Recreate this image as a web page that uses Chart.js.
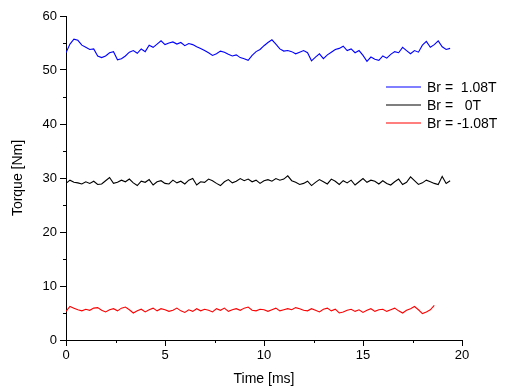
<!DOCTYPE html>
<html>
<head>
<meta charset="utf-8">
<script src="https://cdn.jsdelivr.net/npm/chart.js@4/dist/chart.umd.min.js"></script>
<style>
  html, body { margin: 0; padding: 0; background: #fff; }
  #wrap { width: 507px; height: 391px; }
</style>
</head>
<body>
<div id="wrap"><canvas id="torque" width="507" height="391"></canvas></div>
<script>
// sample times [ms]
const time = [
  0, 0.2, 0.4, 0.6, 0.8, 1.0, 1.2, 1.4, 1.6, 1.8, 2.0, 2.2, 2.4, 2.6, 2.8, 3.0, 3.2, 3.4, 3.6, 3.8,
  4.0, 4.2, 4.4, 4.6, 4.8, 5.0, 5.2, 5.4, 5.6, 5.8, 6.0, 6.2, 6.4, 6.6, 6.8, 7.0, 7.2, 7.4, 7.6, 7.8,
  8.0, 8.2, 8.4, 8.6, 8.8, 9.0, 9.2, 9.4, 9.6, 9.8, 10.0, 10.2, 10.4, 10.6, 10.8, 11.0, 11.2, 11.4, 11.6, 11.8,
  12.0, 12.2, 12.4, 12.6, 12.8, 13.0, 13.2, 13.4, 13.6, 13.8, 14.0, 14.2, 14.4, 14.6, 14.8, 15.0, 15.2, 15.4, 15.6, 15.8,
  16.0, 16.2, 16.4, 16.6, 16.8, 17.0, 17.2, 17.4, 17.6, 17.8, 18.0, 18.2, 18.4, 18.6, 18.8, 19.0, 19.2, 19.4
];

// Br = 1.08T
const torquePos = [
  53.2, 54.8, 55.7, 55.5, 54.6, 54.2, 53.8, 53.9, 52.6, 52.3, 52.6, 53.2, 53.4, 51.9, 52.1, 52.6, 53.3, 53.6, 53.1, 53.9,
  53.4, 54.6, 54.2, 54.8, 55.4, 54.7, 55.0, 55.2, 54.8, 55.1, 54.5, 54.9, 54.7, 54.3, 54.0, 53.6, 53.2, 52.7, 53.0, 53.5,
  53.3, 52.9, 52.6, 52.8, 52.3, 52.1, 51.8, 52.7, 53.4, 53.8, 54.5, 55.1, 55.6, 54.8, 53.9, 53.5, 53.6, 53.4, 53.0, 53.3,
  53.6, 53.2, 51.7, 52.4, 53.0, 52.1, 52.8, 53.3, 53.8, 54.0, 54.4, 53.6, 53.9, 53.2, 53.6, 52.7, 51.6, 52.4, 52.0, 51.8,
  52.6, 52.2, 52.9, 53.4, 53.2, 54.2, 53.6, 53.0, 53.6, 53.3, 54.6, 55.3, 54.2, 54.7, 55.4, 54.3, 53.8, 54.0
];

// Br = 0T
const torqueZero = [
  29.0, 29.6, 29.2, 29.1, 28.9, 29.3, 29.0, 29.4, 28.8, 28.9, 29.5, 30.1, 29.0, 29.2, 29.6, 29.3, 29.8, 29.1, 28.6, 29.4,
  29.2, 29.7, 28.7, 29.3, 29.5, 29.0, 28.9, 29.6, 29.1, 29.4, 28.9, 29.6, 29.9, 28.7, 29.3, 29.2, 29.8, 29.5, 29.0, 28.6,
  29.3, 29.7, 29.1, 29.4, 29.9, 29.5, 29.8, 29.3, 29.6, 29.0, 29.5, 29.7, 29.4, 29.9, 29.6, 29.8, 30.4, 29.5, 29.2, 28.8,
  29.0, 29.4, 28.6, 29.2, 29.7, 29.3, 28.9, 29.8, 29.4, 28.8, 29.5, 29.1, 29.6, 28.7, 29.3, 29.9, 29.2, 29.6, 29.4, 28.9,
  29.5, 29.0, 28.7, 29.3, 29.8, 28.8, 29.2, 30.2, 29.5, 28.8, 29.1, 29.6, 29.3, 29.0, 28.8, 30.3, 29.0, 29.5
];

// Br = -1.08T (ends at 18.6 ms)
const torqueNeg = [
  5.3, 6.2, 5.9, 5.6, 5.4, 5.7, 5.5, 5.9, 6.0, 5.5, 5.2, 5.6, 5.8, 5.4, 5.9, 6.1, 5.6, 5.0, 5.4, 5.7,
  5.2, 5.6, 5.9, 5.4, 5.8, 5.6, 5.3, 5.5, 5.9, 5.4, 5.1, 5.6, 5.3, 5.8, 5.4, 5.7, 5.5, 5.2, 5.8, 5.5,
  5.9, 5.3, 5.6, 5.8, 5.5, 5.9, 6.1, 5.5, 5.4, 5.7, 5.6, 5.3, 5.6, 5.9, 5.4, 5.6, 5.8, 5.6, 6.0, 5.8,
  5.5, 5.4, 5.8, 5.5, 5.2, 5.7, 5.9, 5.4, 5.7, 5.0, 5.2, 5.5, 5.7, 5.3, 5.6, 5.1, 5.5, 5.8, 5.3, 5.6,
  5.7, 5.3, 5.6, 5.9, 5.4, 5.0, 5.5, 5.8, 6.2, 5.6, 4.9, 5.2, 5.6, 6.4
];

const seriesLabels = ["Br =  1.08T", "Br =   0T", "Br = -1.08T"];
const seriesColors = ["#0000ff", "#000000", "#ff0000"];

const xMinorTicks = [2.5, 7.5, 12.5, 17.5];
const yMinorTicks = [5, 15, 25, 35, 45, 55];

const FONT = "'Liberation Sans', Arial, sans-serif";

function toPoints(values) {
  return values.map((v, i) => ({ x: time[i], y: v }));
}

// short minor ticks outside the axes
const minorTicks = {
  id: "minorTicks",
  afterDraw(chart) {
    const ctx = chart.ctx;
    const xs = chart.scales.x;
    const ys = chart.scales.y;
    const area = chart.chartArea;
    ctx.save();
    ctx.strokeStyle = "#000";
    ctx.lineWidth = 1;
    ctx.beginPath();
    xMinorTicks.forEach((v) => {
      const px = Math.round(xs.getPixelForValue(v)) + 0.5;
      ctx.moveTo(px, area.bottom);
      ctx.lineTo(px, area.bottom + 3);
    });
    yMinorTicks.forEach((v) => {
      const py = Math.round(ys.getPixelForValue(v)) + 0.5;
      ctx.moveTo(area.left, py);
      ctx.lineTo(area.left - 3, py);
    });
    ctx.stroke();
    ctx.restore();
  },
};

// legend inside the plot, right side
const insideLegend = {
  id: "insideLegend",
  afterDraw(chart) {
    const ctx = chart.ctx;
    const area = chart.chartArea;
    const x0 = area.left + 320;
    const y0 = area.top + 71;
    ctx.save();
    ctx.font = "14px " + FONT;
    ctx.textBaseline = "middle";
    seriesLabels.forEach((label, i) => {
      const y = y0 + i * 18;
      ctx.strokeStyle = seriesColors[i];
      ctx.lineWidth = 1.2;
      ctx.beginPath();
      ctx.moveTo(x0, y);
      ctx.lineTo(x0 + 35, y);
      ctx.stroke();
      ctx.fillStyle = "#000";
      ctx.fillText(label, x0 + 41, y + 1);
    });
    ctx.restore();
  },
};

const datasets = [torquePos, torqueZero, torqueNeg].map((vals, i) => ({
  label: seriesLabels[i],
  data: toPoints(vals),
  borderColor: seriesColors[i],
  backgroundColor: seriesColors[i],
  borderWidth: 1.1,
  pointRadius: 0,
  tension: 0,
  fill: false,
}));

new Chart(document.getElementById("torque"), {
  type: "line",
  data: { datasets: datasets },
  plugins: [minorTicks, insideLegend],
  options: {
    responsive: false,
    animation: false,
    devicePixelRatio: 1,
    layout: { padding: { left: 10, top: 16, right: 45, bottom: 0 } },
    plugins: {
      legend: { display: false },
      tooltip: { enabled: false },
    },
    scales: {
      x: {
        type: "linear",
        min: 0,
        max: 20,
        afterFit: (scale) => { scale.height = 51; },
        border: { display: true, color: "#000", width: 1 },
        grid: { display: true, drawOnChartArea: false, drawTicks: true, tickLength: 6, tickColor: "#000" },
        ticks: {
          stepSize: 5,
          color: "#000",
          padding: 2,
          maxRotation: 0,
          font: { family: FONT, size: 13 },
        },
        title: {
          display: true,
          text: "Time [ms]",
          color: "#000",
          font: { family: FONT, size: 14 },
          padding: { top: 0, bottom: 3 },
        },
      },
      y: {
        type: "linear",
        min: 0,
        max: 60,
        afterFit: (scale) => { scale.width = 56; },
        border: { display: true, color: "#000", width: 1 },
        grid: { display: true, drawOnChartArea: false, drawTicks: true, tickLength: 6, tickColor: "#000" },
        ticks: {
          stepSize: 10,
          color: "#000",
          padding: 3,
          font: { family: FONT, size: 13 },
        },
        title: {
          display: true,
          text: "Torque [Nm]",
          color: "#000",
          font: { family: FONT, size: 14 },
          padding: { top: 0, bottom: 0 },
        },
      },
    },
  },
});
</script>
</body>
</html>
